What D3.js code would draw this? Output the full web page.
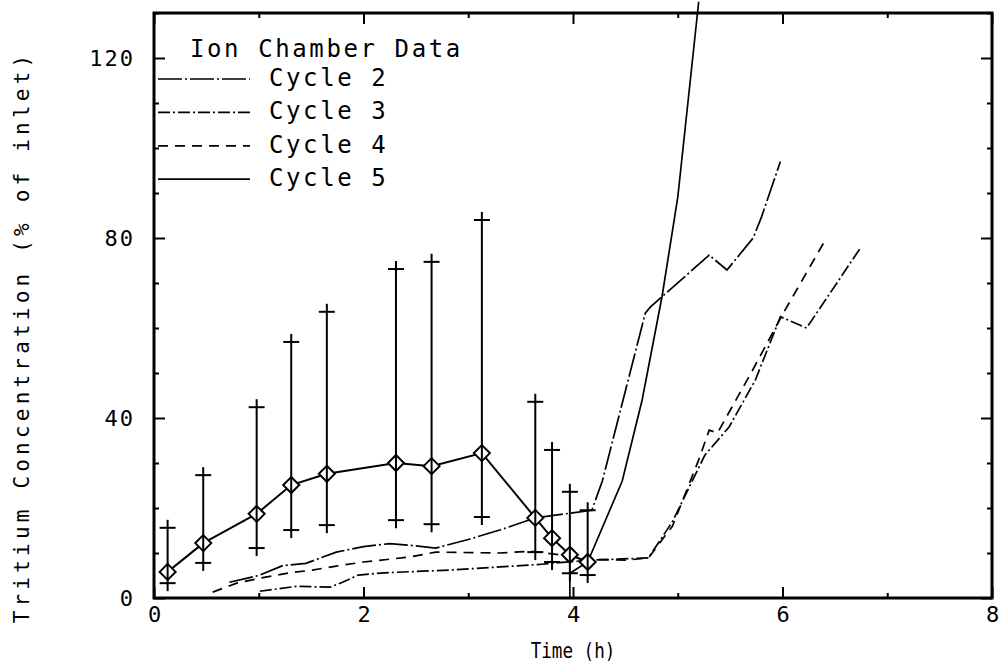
<!DOCTYPE html>
<html lang="en">
  <head>
    <meta charset="utf-8">
    <title>Tritium concentration</title>
    <script src="https://cdn.jsdelivr.net/npm/d3@7"></script>
    <style>
      body { margin: 0; background: #fff; }
      text { font-family: 'DejaVu Sans Mono', monospace; fill: #000; }
    </style>
  </head>
  <body>
    <svg id="chart" width="1006" height="666"></svg>

    <script type="text/javascript">
      // values: [time (h), concentration (% of inlet)]
      let cycleNames = ['Cycle 2', 'Cycle 3', 'Cycle 4', 'Cycle 5'];

      let cycle2 = [[0.72, 3.5], [1.0, 5.0], [1.23, 7.2], [1.45, 7.7], [1.74, 10.2], [2.0, 11.4],
                    [2.25, 12.1], [2.5, 11.6], [2.69, 11.1], [3.0, 13.0], [3.3, 15.1], [3.64, 17.8],
                    [4.18, 19.5], [4.28, 26.0], [4.69, 63.3], [4.74, 64.7], [5.3, 76.2], [5.47, 72.9],
                    [5.72, 80.0], [5.8, 84.7], [5.98, 97.0]];
      let cycle3 = [[1.01, 1.5], [1.36, 2.6], [1.68, 2.4], [1.8, 3.5], [1.95, 5.1], [2.2, 5.6],
                    [2.5, 5.9], [2.82, 6.2], [3.3, 6.9], [3.7, 7.5], [4.15, 8.4], [4.72, 8.9],
                    [4.95, 17.0], [5.26, 31.8], [5.49, 38.0], [5.74, 48.4], [5.98, 62.5], [6.23, 60.0],
                    [6.75, 78.0]];
      let cycle4 = [[0.56, 1.3], [0.79, 3.3], [1.01, 4.4], [1.3, 5.6], [1.51, 6.2], [1.74, 7.1],
                    [2.0, 8.0], [2.44, 9.1], [2.69, 10.2], [3.3, 10.0], [3.6, 10.4], [3.9, 9.5],
                    [4.15, 8.6], [4.5, 8.4], [4.72, 8.9], [4.95, 16.0], [5.2, 30.7], [5.3, 37.3],
                    [5.38, 36.7], [5.7, 50.0], [6.0, 63.0], [6.42, 80.0]];
      let cycle5 = [[3.97, 0], [3.97, 5.5], [4.14, 8.0], [4.47, 26.0], [4.66, 44.0], [4.85, 67.0],
                    [5.0, 89.0], [5.2, 132.5]];

      // averaged points with their error bars
      let avgTime = [0.13, 0.47, 0.98, 1.31, 1.65, 2.31, 2.65, 3.13, 3.64, 3.80, 3.97, 4.14];
      let avgConc = [5.8, 12.2, 18.7, 25.1, 27.6, 30.0, 29.3, 32.2, 17.8, 13.3, 9.6, 8.0];
      let errHigh = [15.6, 27.3, 42.4, 56.9, 63.6, 73.1, 74.7, 84.0, 43.6, 32.9, 23.6, 19.5];
      let errLow  = [3.3, 7.8, 11.1, 15.1, 16.2, 17.3, 16.4, 18.0, 10.2, 8.0, 5.5, 5.1];

      let timeTicks = [0, 2, 4, 6, 8];
      let timeMinor = [1, 3, 5, 7];
      let concTicks = [0, 40, 80, 120];
      let concMinor = [10, 20, 30, 50, 60, 70, 90, 100, 110, 130];

      let cycles = [cycle2, cycle3, cycle4, cycle5];
      let dashes = ['24,3,2,3', '12,3,2,3', '10,7', null];

      let svg = d3.select('#chart');
      let plotLeft = 154, plotRight = 992, plotTop = 13, plotBottom = 598;

      let x = d3.scaleLinear().domain([0, 8]).range([plotLeft, plotRight]);
      let y = d3.scaleLinear().domain([0, 130]).range([plotBottom, plotTop]);

      // axes: ticks point inward on all four sides
      let axisG = svg.append('g');
      axisG.append('g')
        .attr('transform', `translate(0,${plotBottom})`)
        .call(d3.axisBottom(x).tickValues(timeTicks).tickSizeInner(-11).tickSizeOuter(0)
          .tickPadding(8).tickFormat(d3.format('d')))
        .call(g => g.selectAll('text').attr('font-size', 22).attr('letter-spacing', 2)
          .attr('font-family', "'DejaVu Sans Mono', monospace").attr('dx', 1));
      axisG.append('g')
        .attr('transform', `translate(0,${plotBottom})`)
        .call(d3.axisBottom(x).tickValues(timeMinor).tickSizeInner(-5).tickSizeOuter(0).tickFormat(''));
      axisG.append('g')
        .attr('transform', `translate(0,${plotTop})`)
        .call(d3.axisTop(x).tickValues(timeTicks).tickSizeInner(-11).tickSizeOuter(0).tickFormat(''));
      axisG.append('g')
        .attr('transform', `translate(0,${plotTop})`)
        .call(d3.axisTop(x).tickValues(timeMinor).tickSizeInner(-5).tickSizeOuter(0).tickFormat(''));

      axisG.append('g')
        .attr('transform', `translate(${plotLeft},0)`)
        .call(d3.axisLeft(y).tickValues(concTicks).tickSizeInner(-11).tickSizeOuter(0)
          .tickPadding(19).tickFormat(d3.format('d')))
        .call(g => g.selectAll('text').attr('font-size', 22).attr('letter-spacing', 2)
          .attr('font-family', "'DejaVu Sans Mono', monospace"));
      axisG.append('g')
        .attr('transform', `translate(${plotLeft},0)`)
        .call(d3.axisLeft(y).tickValues(concMinor).tickSizeInner(-5).tickSizeOuter(0).tickFormat(''));
      axisG.append('g')
        .attr('transform', `translate(${plotRight},0)`)
        .call(d3.axisRight(y).tickValues(concTicks).tickSizeInner(-11).tickSizeOuter(0).tickFormat(''));
      axisG.append('g')
        .attr('transform', `translate(${plotRight},0)`)
        .call(d3.axisRight(y).tickValues(concMinor).tickSizeInner(-5).tickSizeOuter(0).tickFormat(''));

      axisG.selectAll('.domain').remove();
      axisG.selectAll('.tick line').attr('stroke', '#000').attr('stroke-width', 2);

      svg.append('rect')
        .attr('x', plotLeft).attr('y', plotTop)
        .attr('width', plotRight - plotLeft).attr('height', plotBottom - plotTop)
        .attr('fill', 'none').attr('stroke', '#000').attr('stroke-width', 3);

      // axis titles (x title is a narrow lettering in the original)
      svg.append('text')
        .attr('transform', `translate(${(plotLeft + plotRight) / 2},658) scale(0.8,1)`)
        .attr('text-anchor', 'middle').attr('font-size', 22)
        .text('Time (h)');
      svg.append('text')
        .attr('transform', `translate(29,337) rotate(-90)`)
        .attr('text-anchor', 'middle').attr('font-size', 21).attr('letter-spacing', 4.2)
        .text('Tritium Concentration (% of inlet)');

      // cycle curves
      let line = d3.line().x(d => x(d[0])).y(d => y(d[1]));
      svg.selectAll('path.cycle')
        .data(cycles)
        .enter()
        .append('path')
        .attr('class', 'cycle')
        .attr('d', line)
        .attr('fill', 'none')
        .attr('stroke', '#000')
        .attr('stroke-width', 1.7)
        .attr('stroke-dasharray', (d, i) => dashes[i]);

      // averaged points: connecting line, diamonds, error bars with end crosses
      let avg = avgTime.map((t, i) => ({t: t, c: avgConc[i], hi: errHigh[i], lo: errLow[i]}));
      svg.append('path')
        .datum(avg)
        .attr('d', d3.line().x(d => x(d.t)).y(d => y(d.c)))
        .attr('fill', 'none').attr('stroke', '#000').attr('stroke-width', 2);

      svg.selectAll('path.diamond')
        .data(avg)
        .enter()
        .append('path')
        .attr('class', 'diamond')
        .attr('transform', d => `translate(${x(d.t)},${y(d.c)})`)
        .attr('d', 'M0,-8L8,0L0,8L-8,0Z')
        .attr('fill', '#fff').attr('stroke', '#000').attr('stroke-width', 2);

      let bars = svg.selectAll('g.err').data(avg).enter().append('g').attr('class', 'err')
        .attr('stroke', '#000').attr('stroke-width', 2);
      bars.append('line')
        .attr('x1', d => x(d.t)).attr('x2', d => x(d.t))
        .attr('y1', d => y(d.hi) - 8).attr('y2', d => y(d.lo) + 8);
      bars.append('line')
        .attr('x1', d => x(d.t) - 8).attr('x2', d => x(d.t) + 8)
        .attr('y1', d => y(d.hi)).attr('y2', d => y(d.hi));
      bars.append('line')
        .attr('x1', d => x(d.t) - 8).attr('x2', d => x(d.t) + 8)
        .attr('y1', d => y(d.lo)).attr('y2', d => y(d.lo));

      // legend
      let legend = svg.append('g');
      legend.append('text')
        .attr('x', 190).attr('y', 57)
        .attr('font-size', 24).attr('letter-spacing', 2.6)
        .text('Ion Chamber Data');
      let items = legend.selectAll('g.item')
        .data(cycleNames)
        .enter()
        .append('g')
        .attr('class', 'item')
        .attr('transform', (d, i) => `translate(0,${86 + i * 33.4})`);
      items.append('line')
        .attr('x1', 158).attr('x2', 250).attr('y1', -7).attr('y2', -7)
        .attr('stroke', '#000').attr('stroke-width', 1.7)
        .attr('stroke-dasharray', (d, i) => dashes[i]);
      items.append('text')
        .attr('x', 269).attr('y', 0)
        .attr('font-size', 24).attr('letter-spacing', 2.6)
        .text(d => d);
    </script>
  </body>
</html>
